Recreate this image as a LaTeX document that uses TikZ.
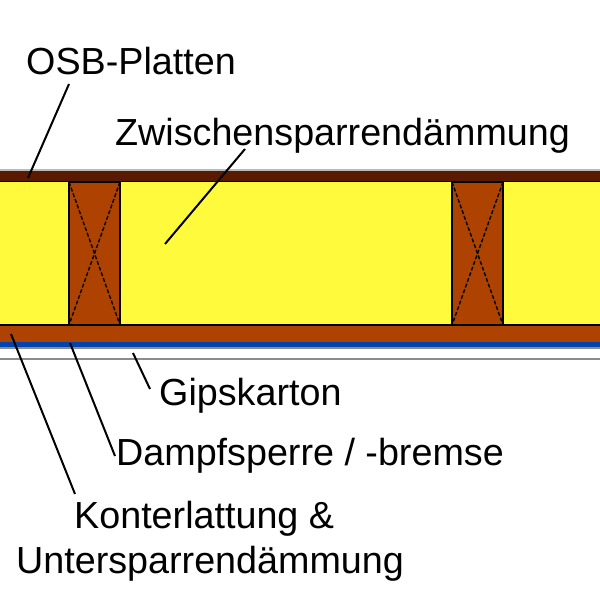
\documentclass[tikz,border=0pt]{standalone}
\usepackage{fontspec}
\setmainfont{Liberation Sans}
\definecolor{osb}{HTML}{5A1A00}
\definecolor{holz}{HTML}{AE4200}
\definecolor{daemm}{HTML}{FFFB3C}
\definecolor{folie}{HTML}{0044B0}
\definecolor{gips}{HTML}{8C8C8C}
\tikzset{lbl/.style={inner sep=0pt,font=\fontsize{37.7}{44}\selectfont},
  leader/.style={line width=2pt},
  kante/.style={draw=black,line width=1.6pt},
  kreuz/.style={black,line width=1.4pt,dash pattern=on 4pt off 2pt}}
\begin{document}
\begin{tikzpicture}[x=1pt,y=-1pt]
  \useasboundingbox (0,0) rectangle (600,600);
  \fill[white] (0,0) rectangle (600,600);
  \draw[gips!60,line width=1.5pt] (0,170) -- (600,170);
  \fill[osb] (0,171) rectangle (600,181);
  \draw[black,line width=1.6pt] (0,181.5) -- (600,181.5);
  \fill[daemm] (0,182) rectangle (600,325);
  \fill[holz] (0,325) rectangle (600,342);
  \draw[black,line width=1.4pt] (0,325) -- (600,325);
  \fill[folie] (0,342) rectangle (600,347);
  \draw[gips,line width=2pt] (0,347.5) -- (600,347.5);
  \draw[gips,line width=2pt] (0,358.5) -- (600,358.5);
  % sparren
  \foreach \xa/\xb in {69/120,452/503}{
    \filldraw[fill=holz,kante] (\xa,182) rectangle (\xb,325);
    \draw[kreuz] (\xa,182) -- (\xb,325);
    \draw[kreuz] (\xb,182) -- (\xa,325);
  }
  % labels
  \node[lbl,anchor=base west] (osbtext) at (26,74) {OSB-Platten};
  \node[lbl,anchor=base west] (zwsp) at (115,145) {Zwischensparrendämmung};
  \node[lbl,anchor=base west] (gk) at (159,405) {Gipskarton};
  \node[lbl,anchor=base west] (dampf) at (116,465) {Dampfsperre / -bremse};
  \node[lbl,anchor=base west] (konter) at (74,528) {Konterlattung \&};
  \node[lbl,anchor=base west] (unter) at (16,573) {Untersparrendämmung};
  % leader
  \coordinate (a1) at (69,84);   \coordinate (a2) at (28,178);
  \coordinate (b1) at (245,149); \coordinate (b2) at (165,244);
  \coordinate (c1) at (150,389); \coordinate (c2) at (133,353);
  \coordinate (d1) at (115,456); \coordinate (d2) at (70,343);
  \coordinate (e1) at (75,494);  \coordinate (e2) at (11,334);
  \foreach \p/\q in {a1/a2,b1/b2,c1/c2,d1/d2,e1/e2}
    \draw[leader] (\p) -- (\q);
\end{tikzpicture}
\end{document}
